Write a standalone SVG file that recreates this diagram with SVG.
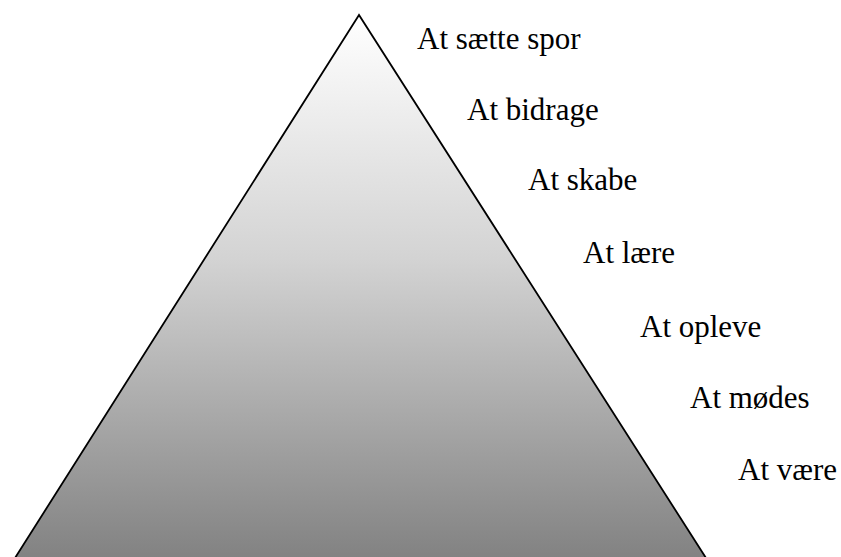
<svg xmlns="http://www.w3.org/2000/svg" width="841" height="557" viewBox="0 0 841 557">
<style>
.lbl{font-family:"Liberation Serif","Times New Roman",serif;font-size:31px;fill:#000}
</style>
<defs>
<linearGradient id="g" x1="0" y1="0" x2="0" y2="1">
<stop offset="0" stop-color="#ffffff"/>
<stop offset="0.45" stop-color="#d3d3d3"/>
<stop offset="1" stop-color="#828282"/>
</linearGradient>
</defs>
<rect width="841" height="557" fill="#fff"/>
<g id="pyramid">
<polygon points="359,15 15,558 706,558" fill="url(#g)" stroke="#000" stroke-width="1.8" stroke-linejoin="miter"/>
</g>
<g id="labels">
<text id="l1" class="lbl" x="417" y="49">At sætte spor</text>
<text id="l2" class="lbl" x="467" y="120">At bidrage</text>
<text id="l3" class="lbl" x="528" y="190">At skabe</text>
<text id="l4" class="lbl" x="583" y="263">At lære</text>
<text id="l5" class="lbl" x="640" y="337">At opleve</text>
<text id="l6" class="lbl" x="690" y="408">At mødes</text>
<text id="l7" class="lbl" x="738" y="480">At være</text>
</g>
</svg>
